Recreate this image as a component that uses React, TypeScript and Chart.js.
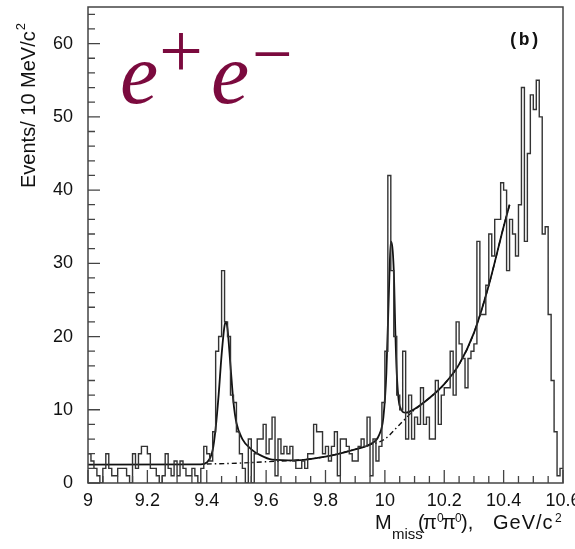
import React, { useEffect, useRef } from 'react';
import { Chart, registerables } from 'chart.js';

Chart.register(...registerables);

// ---- data ----
const binStart = 9.0;
const binWidth = 0.01; // 10 MeV bins
const histCounts = [
  4, 3, 2, 1, 0, 2, 4, 2, 1, 1,
  2, 2, 2, 1, 0, 4, 2, 4, 5, 5,
  4, 2, 2, 1, 0, 1, 4, 2, 1, 3,
  1, 3, 2, 1, 1, 2, 1, 0, 2, 5,
  4, 3, 7, 18, 20, 29, 22, 20, 12, 11,
  7, 4, 2, 0, 6, 0, 4, 6, 6, 8,
  4, 6, 9, 1, 6, 4, 5, 4, 5, 3,
  2, 2, 3, 2, 4, 4, 8, 7, 7, 4,
  5, 3, 5, 7, 1, 6, 6, 5, 4, 3,
  3, 5, 6, 5, 9, 1, 6, 3, 5, 11,
  18, 42, 29, 20, 12, 10, 18, 6, 12, 6,
  9, 8, 13, 8, 9, 6, 6, 14, 8, 12,
  13, 13, 18, 12, 22, 19, 17, 13, 17, 18,
  19, 33, 23, 23, 27, 34, 31, 36, 36, 41,
  40, 29, 36, 34, 31, 38, 54, 33, 45, 53,
  51, 55, 50, 34, 35, 23, 14, 7, 1, 2,
];

// full fit (signal + background), solid
const fitX = [9.0, 9.38, 9.4, 9.42, 9.43, 9.44, 9.45, 9.46, 9.465, 9.47, 9.48, 9.49, 9.5, 9.52, 9.55, 9.58, 9.62, 9.7, 9.8, 9.9, 9.95, 9.98, 9.995, 10.005, 10.015, 10.02, 10.03, 10.035, 10.04, 10.05, 10.07, 10.1, 10.15, 10.2, 10.25, 10.3, 10.35, 10.4, 10.42];
const fitY = [2.5, 2.55, 2.8, 4.5, 7.5, 12, 17.5, 21.5, 22, 21, 16, 11, 8.2, 6.0, 4.6, 3.8, 3.2, 3.1, 3.6, 4.6, 5.3, 6.5, 9, 15, 28, 33, 29, 21, 15, 10.5, 9.6, 10.1, 11.6, 13.5, 16.2, 20.5, 27, 35, 38];

// background only, dashed
const bkgX = [9.4, 9.5, 9.6, 9.7, 9.8, 9.9, 9.95, 10.0, 10.05, 10.1, 10.15, 10.2, 10.25, 10.3, 10.35, 10.4, 10.42];
const bkgY = [2.6, 2.7, 2.9, 3.1, 3.6, 4.6, 5.2, 6.0, 8.0, 10.0, 11.6, 13.5, 16.2, 20.5, 27, 35, 38];

const xTickValues = [9, 9.2, 9.4, 9.6, 9.8, 10, 10.2, 10.4, 10.6];
const yTickValues = [0, 10, 20, 30, 40, 50, 60];
const xMin = 9;
const xMax = 10.6;
const yMin = 0;
const yMax = 65;

const SANS = '"Liberation Sans", Arial, Helvetica, sans-serif';
const SERIF = '"Liberation Serif", "DejaVu Serif", serif';

function placeGlyph(ctx: CanvasRenderingContext2D, text: string, left: number, top: number) {
  const m = ctx.measureText(text);
  ctx.fillText(text, left + m.actualBoundingBoxLeft, top + m.actualBoundingBoxAscent);
}

const decorPlugin = {
  id: 'decor',
  afterDatasetsDraw(chart: any) {
    const { ctx, chartArea: a, scales } = chart;
    const xs = scales.x;
    const ys = scales.y;
    ctx.save();
    ctx.strokeStyle = '#444';
    ctx.lineWidth = 1.5;
    ctx.strokeRect(a.left, a.top, a.right - a.left, a.bottom - a.top);
    ctx.lineWidth = 1.3;
    ctx.beginPath();
    for (let k = 0; k <= 32; k++) {
      const v = xMin + k * 0.05;
      const px = xs.getPixelForValue(v);
      const len = k % 4 === 0 ? 13 : 7;
      ctx.moveTo(px, a.bottom);
      ctx.lineTo(px, a.bottom - len);
    }
    for (let k = 0; k <= 32; k++) {
      const v = k * 2;
      const py = ys.getPixelForValue(v);
      const len = k % 5 === 0 ? 12 : 7;
      ctx.moveTo(a.left, py);
      ctx.lineTo(a.left + len, py);
    }
    ctx.stroke();
    ctx.restore();
  },
  afterDraw(chart: any) {
    const ctx: CanvasRenderingContext2D = chart.ctx;
    ctx.save();
    // e+e- label
    ctx.fillStyle = '#7b0a3e';
    ctx.textBaseline = 'alphabetic';
    ctx.textAlign = 'left';
    ctx.font = `italic 86px ${SERIF}`;
    placeGlyph(ctx, 'e', 122, 62);
    placeGlyph(ctx, 'e', 213, 62);
    ctx.font = `78px ${SERIF}`;
    placeGlyph(ctx, '+', 162, 33);
    ctx.font = `72px ${SERIF}`;
    placeGlyph(ctx, '\u2212', 255, 52);

    // (b)
    ctx.fillStyle = '#111';
    ctx.font = `bold 18px "Liberation Mono", "DejaVu Sans Mono", monospace`;
    ctx.fillText('(b)', 508, 45);

    // y axis title
    ctx.save();
    ctx.translate(35, 188);
    ctx.rotate(-Math.PI / 2);
    ctx.font = `20px ${SANS}`;
    const yt = 'Events/ 10 MeV/c';
    ctx.fillText(yt, 0, 0);
    const w = ctx.measureText(yt).width;
    ctx.font = `13px ${SANS}`;
    ctx.fillText('2', w + 1, -10);
    ctx.restore();

    // x axis title
    const base = 529;
    ctx.font = `20px ${SANS}`;
    ctx.fillText('M', 375, base);
    ctx.font = `15px ${SANS}`;
    ctx.fillText('miss', 392, base + 10);
    ctx.font = `20px ${SANS}`;
    ctx.fillText('(', 418, base);
    ctx.fillText('\u03c0', 423, base);
    ctx.font = `12px ${SANS}`;
    ctx.fillText('0', 437, base - 7);
    ctx.font = `20px ${SANS}`;
    ctx.fillText('\u03c0', 442, base);
    ctx.font = `12px ${SANS}`;
    ctx.fillText('0', 455, base - 7);
    ctx.font = `20px ${SANS}`;
    ctx.fillText('),', 461, base);
    (ctx as any).letterSpacing = '1px';
    ctx.fillText('GeV/c', 493, base);
    (ctx as any).letterSpacing = '0px';
    ctx.font = `12px ${SANS}`;
    ctx.fillText('2', 555, base - 7);
    ctx.restore();
  },
};

export default function App() {
  const canvasRef = useRef<HTMLCanvasElement | null>(null);

  useEffect(() => {
    const canvas = canvasRef.current;
    if (!canvas) return;

    const histData = histCounts.map((v, i) => ({ x: binStart + i * binWidth, y: v }));
    histData.push({ x: xMax, y: histCounts[histCounts.length - 1] });
    const fitData = fitX.map((x, i) => ({ x, y: fitY[i] }));
    const bkgData = bkgX.map((x, i) => ({ x, y: bkgY[i] }));

    const chart = new Chart(canvas, {
      type: 'line',
      data: {
        datasets: [
          {
            label: 'data',
            data: histData,
            stepped: 'before',
            borderColor: '#333',
            borderWidth: 1.4,
            pointRadius: 0,
            fill: false,
          } as any,
          {
            label: 'background',
            data: bkgData,
            borderColor: '#111',
            borderWidth: 1.4,
            borderDash: [5, 3, 1.5, 3],
            pointRadius: 0,
            cubicInterpolationMode: 'monotone',
            fill: false,
          } as any,
          {
            label: 'fit',
            data: fitData,
            borderColor: '#111',
            borderWidth: 1.8,
            pointRadius: 0,
            cubicInterpolationMode: 'monotone',
            fill: false,
          } as any,
        ],
      },
      options: {
        animation: false,
        responsive: false,
        maintainAspectRatio: false,
        devicePixelRatio: 1,
        layout: { padding: { left: 0, right: 12, top: 7, bottom: 0 } },
        plugins: {
          legend: { display: false },
          tooltip: { enabled: false },
          title: { display: false },
        },
        scales: {
          x: {
            type: 'linear',
            min: xMin,
            max: xMax,
            grid: { display: false, drawTicks: false },
            border: { display: false },
            ticks: {
              autoSkip: false,
              maxRotation: 0,
              padding: 7,
              color: '#111',
              font: { family: SANS, size: 18 },
              callback: (v: any) => String(Number(Number(v).toFixed(1))),
            },
            afterBuildTicks: (scale: any) => {
              scale.ticks = xTickValues.map((v) => ({ value: v }));
            },
            afterFit: (scale: any) => {
              scale.height = 66;
              scale.paddingLeft = 0;
              scale.paddingRight = 0;
            },
          },
          y: {
            type: 'linear',
            min: yMin,
            max: yMax,
            grid: { display: false, drawTicks: false },
            border: { display: false },
            ticks: {
              padding: 15,
              color: '#111',
              font: { family: SANS, size: 18 },
              callback: (v: any) => String(v),
            },
            afterBuildTicks: (scale: any) => {
              scale.ticks = yTickValues.map((v) => ({ value: v }));
            },
            afterFit: (scale: any) => {
              scale.width = 88;
              scale.paddingTop = 0;
              scale.paddingBottom = 0;
            },
          },
        },
      } as any,
      plugins: [decorPlugin as any],
    });

    return () => {
      chart.destroy();
    };
  }, []);

  return (
    <div style={{ position: 'absolute', left: 0, top: 0, width: 575, height: 549, background: '#fff' }}>
      <canvas ref={canvasRef} width={575} height={549} style={{ display: 'block', width: 575, height: 549 }} />
    </div>
  );
}
